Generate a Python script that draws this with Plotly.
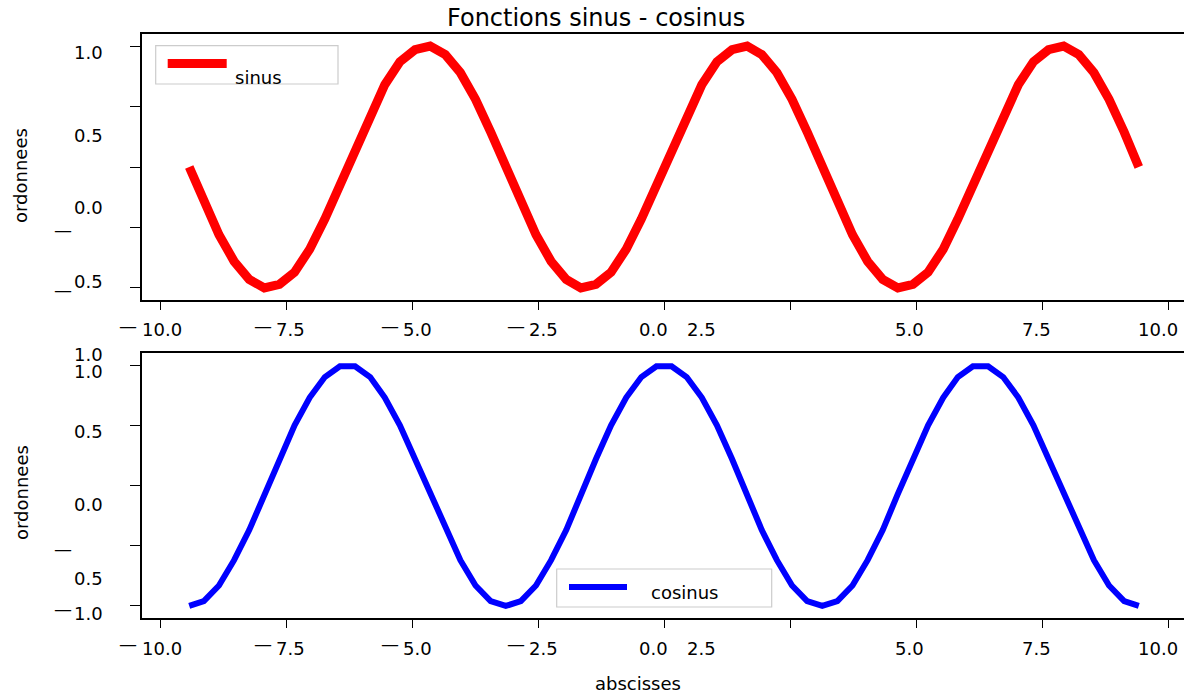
import plotly.graph_objects as go

# ---------------- data ----------------
x_vals = [-9.42, -9.13, -8.83, -8.53, -8.23, -7.93, -7.63, -7.33, -7.03, -6.73,
          -6.43, -6.13, -5.83, -5.54, -5.24, -4.94, -4.64, -4.34, -4.04, -3.74,
          -3.44, -3.14, -2.84, -2.54, -2.24, -1.94, -1.65, -1.35, -1.05, -0.75,
          -0.45, -0.15, 0.15, 0.45, 0.75, 1.05, 1.35, 1.65, 1.94, 2.24,
          2.54, 2.84, 3.14, 3.44, 3.74, 4.04, 4.34, 4.64, 4.94, 5.24,
          5.54, 5.83, 6.13, 6.43, 6.73, 7.03, 7.33, 7.63, 7.93, 8.23,
          8.53, 8.83, 9.13, 9.42]

sinus = [0.00, -0.29, -0.56, -0.78, -0.93, -1.00, -0.97, -0.87, -0.68, -0.43,
         -0.15, 0.15, 0.43, 0.68, 0.87, 0.97, 1.00, 0.93, 0.78, 0.56,
         0.29, 0.00, -0.29, -0.56, -0.78, -0.93, -1.00, -0.97, -0.87, -0.68,
         -0.43, -0.15, 0.15, 0.43, 0.68, 0.87, 0.97, 1.00, 0.93, 0.78,
         0.56, 0.29, 0.00, -0.29, -0.56, -0.78, -0.93, -1.00, -0.97, -0.87,
         -0.68, -0.43, -0.15, 0.15, 0.43, 0.68, 0.87, 0.97, 1.00, 0.93,
         0.78, 0.56, 0.29, 0.00]

cosinus = [-1.00, -0.96, -0.83, -0.62, -0.37, -0.07, 0.22, 0.50, 0.73, 0.90,
           0.99, 0.99, 0.90, 0.73, 0.50, 0.22, -0.07, -0.37, -0.62, -0.83,
           -0.96, -1.00, -0.96, -0.83, -0.62, -0.37, -0.07, 0.22, 0.50, 0.73,
           0.90, 0.99, 0.99, 0.90, 0.73, 0.50, 0.22, -0.07, -0.37, -0.62,
           -0.83, -0.96, -1.00, -0.96, -0.83, -0.62, -0.37, -0.07, 0.22, 0.50,
           0.73, 0.90, 0.99, 0.99, 0.90, 0.73, 0.50, 0.22, -0.07, -0.37,
           -0.62, -0.83, -0.96, -1.00]

x_ticks = [-10.0, -7.5, -5.0, -2.5, 0.0, 2.5, 5.0, 7.5, 10.0]
y_ticks = [-1.0, -0.5, 0.0, 0.5, 1.0]

# tick label texts as they appear in the picture
x_label_texts = ["10.0", "7.5", "5.0", "2.5", "0.0", "2.5", "5.0", "7.5", "10.0"]
y_label_texts_top = ["1.0", "0.5", "0.0", "0.5"]
y_label_texts_bottom = ["1.0", "1.0", "0.5", "0.0", "0.5", "1.0"]

title_text = "Fonctions sinus - cosinus"
x_title = "abscisses"
y_title = "ordonnees"
legend_names = ["sinus", "cosinus"]

# ---------------- layout helpers (pixel positions) ----------------
W, H = 1184, 696
ML, MR, MT, MB = 142, 0, 34, 78
PW, PH = W - ML - MR, H - MT - MB


def px(xp):
    return (xp - ML) / PW


def py(yp):
    return (H - MB - yp) / PH


FONT = "DejaVu Sans"
BLACK = "#000000"

x_label_left = [141, 275, 402, 528, 638, 686, 894, 1021, 1137]
x_dash_left = [117.5, 253, 380, 506]
x_row_y = [329.5, 648.5]
x_dash_y = [325.5, 643.5]

y_label_top_y = [52.5, 135, 207.5, 281]
y_label_bottom_y = [354, 371, 431, 504, 578.5, 613]
y_dash_top_y = [229.5, 289.5]
y_dash_bottom_y = [548, 608.5]

fig = go.Figure()
fig.add_trace(go.Scatter(x=x_vals, y=sinus, mode="lines", name=legend_names[0],
                         line=dict(color="#ff0000", width=9), xaxis="x", yaxis="y",
                         showlegend=False))
fig.add_trace(go.Scatter(x=x_vals, y=cosinus, mode="lines", name=legend_names[1],
                         line=dict(color="#0000ff", width=6), xaxis="x2", yaxis="y2",
                         showlegend=False))

axis_common = dict(showgrid=False, zeroline=False, showline=True, linecolor=BLACK,
                   linewidth=1.6, ticks="outside", tickcolor=BLACK, tickwidth=1.3,
                   showticklabels=False)
xr = [-(664 - ML) / 50.4, (W - 664) / 50.4]
yr = [-1.1, 1.1]

top_dom = [py(300), 1.0]
bot_dom = [0.0, py(353)]

fig.update_layout(
    width=W, height=H,
    margin=dict(l=ML, r=MR, t=MT, b=MB, pad=0),
    paper_bgcolor="white", plot_bgcolor="white",
    font=dict(family=FONT, size=18, color=BLACK),
    xaxis=dict(domain=[0, 1], anchor="y", range=xr, tickvals=x_ticks, mirror=True,
               ticklen=8, **axis_common),
    yaxis=dict(domain=top_dom, anchor="x", range=yr, tickvals=y_ticks, mirror=False,
               ticklen=10, **axis_common),
    xaxis2=dict(domain=[0, 1], anchor="y2", range=xr, tickvals=x_ticks, mirror=True,
                ticklen=8, **axis_common),
    yaxis2=dict(domain=bot_dom, anchor="x2", range=yr, tickvals=y_ticks, mirror=False,
                ticklen=10, **axis_common),
    showlegend=False,
)

ann = []


def text(t, xp, yp, xanchor="left", size=18, angle=0):
    ann.append(dict(text=t, x=px(xp), y=py(yp), xref="paper", yref="paper",
                    xanchor=xanchor, yanchor="middle", showarrow=False,
                    textangle=angle, font=dict(family=FONT, size=size, color=BLACK),
                    borderpad=0))


# x tick labels (both rows)
for ry, dy in zip(x_row_y, x_dash_y):
    for t, xl in zip(x_label_texts, x_label_left):
        text(t, xl, ry)
    for xl in x_dash_left:
        text("\u2014", xl, dy)

# y tick labels
for t, yy in zip(y_label_texts_top, y_label_top_y):
    text(t, 104, yy, xanchor="right")
for t, yy in zip(y_label_texts_bottom, y_label_bottom_y):
    text(t, 104, yy, xanchor="right")
for yy in y_dash_top_y + y_dash_bottom_y:
    text("\u2014", 53, yy)

# titles
text(title_text, 596, 18, xanchor="center", size=24)
text(x_title, 638, 684, xanchor="center")
text(y_title, 21, 176, xanchor="center", angle=-90)
text(y_title, 21, 493, xanchor="center", angle=-90)

# legends (drawn by hand to match the original frames)
text(legend_names[0], 234, 78)
text(legend_names[1], 650, 592.5)

shapes = [
    dict(type="rect", xref="paper", yref="paper", x0=px(155.7), x1=px(338),
         y0=py(45.7), y1=py(84), line=dict(color="#cccccc", width=1.2),
         fillcolor="rgba(255,255,255,0.8)", layer="above"),
    dict(type="line", xref="paper", yref="paper", x0=px(167.7), x1=px(226.7),
         y0=py(63.5), y1=py(63.5), line=dict(color="#ff0000", width=9), layer="above"),
    dict(type="rect", xref="paper", yref="paper", x0=px(556.7), x1=px(771.7),
         y0=py(569), y1=py(607), line=dict(color="#cccccc", width=1.2),
         fillcolor="rgba(255,255,255,0.8)", layer="above"),
    dict(type="line", xref="paper", yref="paper", x0=px(569), x1=px(627),
         y0=py(587), y1=py(587), line=dict(color="#0000ff", width=6), layer="above"),
]

fig.update_layout(annotations=ann, shapes=shapes)
fig.write_html("out.html")
